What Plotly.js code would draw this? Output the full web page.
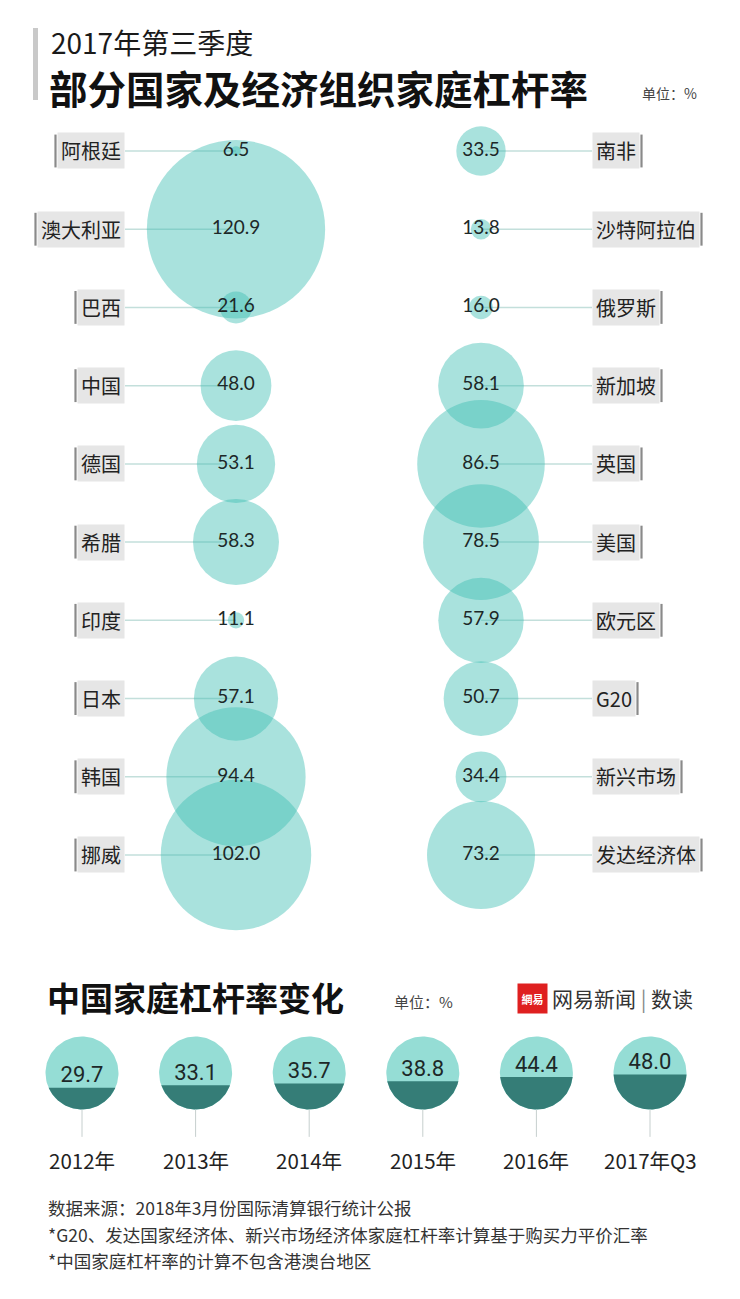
<!DOCTYPE html>
<html>
<head>
<meta charset="utf-8">
<script src="https://cdn.plot.ly/plotly-3.0.1.min.js"></script>
<style>html,body{margin:0;padding:0;background:#fff;}#chart{width:740px;height:1299px;}</style>
</head>
<body>
<div id="chart"></div>
<script>
// ---------- data ----------
const leftNames = ['阿根廷','澳大利亚','巴西','中国','德国','希腊','印度','日本','韩国','挪威'];
const leftValues = [6.5, 120.9, 21.6, 48.0, 53.1, 58.3, 11.1, 57.1, 94.4, 102.0];
const rightNames = ['南非','沙特阿拉伯','俄罗斯','新加坡','英国','美国','欧元区','G20','新兴市场','发达经济体'];
const rightValues = [33.5, 13.8, 16.0, 58.1, 86.5, 78.5, 57.9, 50.7, 34.4, 73.2];
const years = ['2012年','2013年','2014年','2015年','2016年','2017年Q3'];
const chinaValues = [29.7, 33.1, 35.7, 38.8, 44.4, 48.0];

// ---------- layout constants ----------
const W = 740, H = 1299;
const CJK = '"Noto Sans CJK SC", "Noto Sans", sans-serif';
const NUM = 'Lato, "Noto Sans", sans-serif';
const px = v => v / W;
const py = v => 1 - v / H;

// top bubble chart geometry (pixels)
const colL = 236, colR = 481, colGap = colR - colL;
const row0 = 151, rowN = 855, nRows = leftNames.length;
const rowStep = (rowN - row0) / (nRows - 1);
const xA = -colL / colGap, xB = xA + W / colGap;
const x2data = p => xA + p / colGap;
const yTopPx = row0 - rowStep / 2, yBotPx = rowN + rowStep / 2;
const pxPerUnit = 1.475; // bubble diameter px per value unit

const labelFont = 20, labelPad = 3;
const textW = s => Array.from(s).reduce((w, c) => w + (/[\x00-\x7f]/.test(c) ? labelFont * 0.6 : labelFont), 0);
const labelRightL = 125, labelLeftR = 592;

// bottom chart geometry
const cx0 = 82, cStep = 113.6, cR = 36.5, cBottom = 1109.5;
const unitPx = (2 * cR) / 100;
const a2 = -cx0 / cStep, b2 = a2 + W / cStep;
const y2lo = -95, y2hi = 160;
const y2BotPx = cBottom - y2lo * unitPx, y2TopPx = cBottom - y2hi * unitPx;
const rx = cR / cStep;

const traces = [];
const shapes = [];
const annotations = [];

function addColumn(names, values, col, side) {
  names.forEach((n, i) => {
    const w = textW(n) + 2 * labelPad;
    const isL = side === 'L';
    const edge = isL ? labelRightL : labelLeftR;
    shapes.push({type: 'line', xref: 'x', yref: 'y', x0: x2data(edge), x1: col, y0: i, y1: i,
      line: {color: '#c3dfdb', width: 1.5}, layer: 'below'});
    annotations.push({xref: 'paper', yref: 'y', x: px(edge), y: i, xanchor: isL ? 'right' : 'left', yanchor: 'middle',
      text: n, showarrow: false, bgcolor: '#e6e6e6', borderpad: labelPad,
      font: {family: CJK, size: labelFont, color: '#222'}});
    const bx = isL ? edge - w - 3.5 : edge + w + 3.5;
    shapes.push({type: 'line', xref: 'paper', yref: 'y', x0: px(bx), x1: px(bx), y0: i - 0.21, y1: i + 0.21,
      line: {color: '#8a8a8a', width: 2.2}});
  });
  traces.push({
    type: 'scatter', mode: 'markers+text', xaxis: 'x', yaxis: 'y',
    x: values.map(() => col), y: values.map((v, i) => i),
    text: values.map(v => v.toFixed(1)), textposition: 'middle center',
    textfont: {family: NUM, size: 19, color: '#1d2828'},
    marker: {size: values, sizemode: 'diameter', sizeref: 1 / pxPerUnit,
      color: 'rgba(60,190,178,0.63)', line: {width: 0}},
    hoverinfo: 'skip', showlegend: false, cliponaxis: false
  });
}
addColumn(leftNames, leftValues, 0, 'L');
addColumn(rightNames, rightValues, 1, 'R');

// bottom chart: full circles + fill segments
chinaValues.forEach((v, i) => {
  const cx = [], cy = [];
  for (let k = 0; k <= 120; k++) {
    const t = 2 * Math.PI * k / 120;
    cx.push(i + rx * Math.cos(t)); cy.push(50 + 50 * Math.sin(t));
  }
  traces.push({type: 'scatter', mode: 'lines', xaxis: 'x2', yaxis: 'y2', x: cx, y: cy,
    fill: 'toself', fillcolor: '#95ddd5', line: {width: 0, color: '#95ddd5'}, hoverinfo: 'skip', showlegend: false});
  const th0 = Math.asin((v - 50) / 50);
  const sx = [], sy = [];
  const tStart = Math.PI - th0, tEnd = 2 * Math.PI + th0;
  for (let k = 0; k <= 80; k++) {
    const t = tStart + (tEnd - tStart) * k / 80;
    sx.push(i + rx * Math.cos(t)); sy.push(50 + 50 * Math.sin(t));
  }
  sx.push(sx[0]); sy.push(sy[0]);
  traces.push({type: 'scatter', mode: 'lines', xaxis: 'x2', yaxis: 'y2', x: sx, y: sy,
    fill: 'toself', fillcolor: '#357d77', line: {width: 0, color: '#357d77'}, hoverinfo: 'skip', showlegend: false});
  shapes.push({type: 'line', xref: 'x2', yref: 'y2', x0: i, x1: i, y0: 0, y1: -37.5,
    line: {color: '#c6cfce', width: 1}});
  annotations.push({xref: 'x2', yref: 'y2', x: i, y: -69, text: years[i], showarrow: false,
    xanchor: 'center', yanchor: 'middle', font: {family: CJK, size: 20.5, color: '#222'}});
});
traces.push({type: 'scatter', mode: 'text', xaxis: 'x2', yaxis: 'y2',
  x: chinaValues.map((v, i) => i), y: chinaValues,
  text: chinaValues.map(v => v.toFixed(1)), textposition: 'top center',
  textfont: {family: '"Liberation Sans Narrow", Roboto, sans-serif', size: 22, color: '#1d2828'},
  hoverinfo: 'skip', showlegend: false, cliponaxis: false});

// titles & decorations
shapes.push({type: 'rect', xref: 'paper', yref: 'paper', x0: px(33), x1: px(38), y0: py(100), y1: py(28),
  fillcolor: '#c9c9c9', line: {width: 0}});
annotations.push(
  {xref: 'paper', yref: 'paper', x: px(49), y: py(42), xanchor: 'left', yanchor: 'middle', showarrow: false,
    text: '2017年第三季度', font: {family: CJK, size: 28, color: '#1a1a1a'}},
  {xref: 'paper', yref: 'paper', x: px(47), y: py(87), xanchor: 'left', yanchor: 'middle', showarrow: false,
    text: '<b>部分国家及经济组织家庭杠杆率</b>', font: {family: CJK, size: 38.5, color: '#111'}},
  {xref: 'paper', yref: 'paper', x: px(640), y: py(93), xanchor: 'left', yanchor: 'middle', showarrow: false,
    text: '单位：%', font: {family: CJK, size: 14, color: '#444'}},
  {xref: 'paper', yref: 'paper', x: px(45), y: py(997), xanchor: 'left', yanchor: 'middle', showarrow: false,
    text: '<b>中国家庭杠杆率变化</b>', font: {family: CJK, size: 33, color: '#111'}},
  {xref: 'paper', yref: 'paper', x: px(392), y: py(1001), xanchor: 'left', yanchor: 'middle', showarrow: false,
    text: '单位：%', font: {family: CJK, size: 15, color: '#444'}},
  {xref: 'paper', yref: 'paper', x: px(517), y: py(998), xanchor: 'left', yanchor: 'middle', showarrow: false,
    text: '<b>網易</b>', width: 29, height: 29, bgcolor: '#df2020', borderpad: 0,
    font: {family: CJK, size: 11, color: '#fff'}},
  {xref: 'paper', yref: 'paper', x: px(550), y: py(998), xanchor: 'left', yanchor: 'middle', showarrow: false,
    text: '网易新闻 <span style="color:#888">|</span> 数读', font: {family: CJK, size: 21, color: '#333'}},
  {xref: 'paper', yref: 'paper', x: px(46), y: py(1207), xanchor: 'left', yanchor: 'middle', showarrow: false,
    text: '数据来源：2018年3月份国际清算银行统计公报', font: {family: CJK, size: 17.5, color: '#333'}},
  {xref: 'paper', yref: 'paper', x: px(46), y: py(1234), xanchor: 'left', yanchor: 'middle', showarrow: false,
    text: '*G20、发达国家经济体、新兴市场经济体家庭杠杆率计算基于购买力平价汇率', font: {family: CJK, size: 17.5, color: '#333'}},
  {xref: 'paper', yref: 'paper', x: px(46), y: py(1260), xanchor: 'left', yanchor: 'middle', showarrow: false,
    text: '*中国家庭杠杆率的计算不包含港澳台地区', font: {family: CJK, size: 17.5, color: '#333'}}
);

const hidden = {showgrid: false, zeroline: false, showticklabels: false, showline: false, ticks: '', fixedrange: true};
const layout = {
  width: W, height: H, margin: {l: 0, r: 0, t: 0, b: 0, pad: 0},
  paper_bgcolor: '#fff', plot_bgcolor: 'rgba(0,0,0,0)', showlegend: false,
  xaxis: Object.assign({}, hidden, {range: [xA, xB], domain: [0, 1]}),
  yaxis: Object.assign({}, hidden, {range: [nRows - 0.5, -0.5], domain: [py(yBotPx), py(yTopPx)]}),
  xaxis2: Object.assign({}, hidden, {range: [a2, b2], domain: [0, 1], anchor: 'y2'}),
  yaxis2: Object.assign({}, hidden, {range: [y2lo, y2hi], domain: [py(y2BotPx), py(y2TopPx)], anchor: 'x2'}),
  shapes: shapes, annotations: annotations
};
Plotly.newPlot('chart', traces, layout, {displayModeBar: false, staticPlot: true});
</script>
</body>
</html>
